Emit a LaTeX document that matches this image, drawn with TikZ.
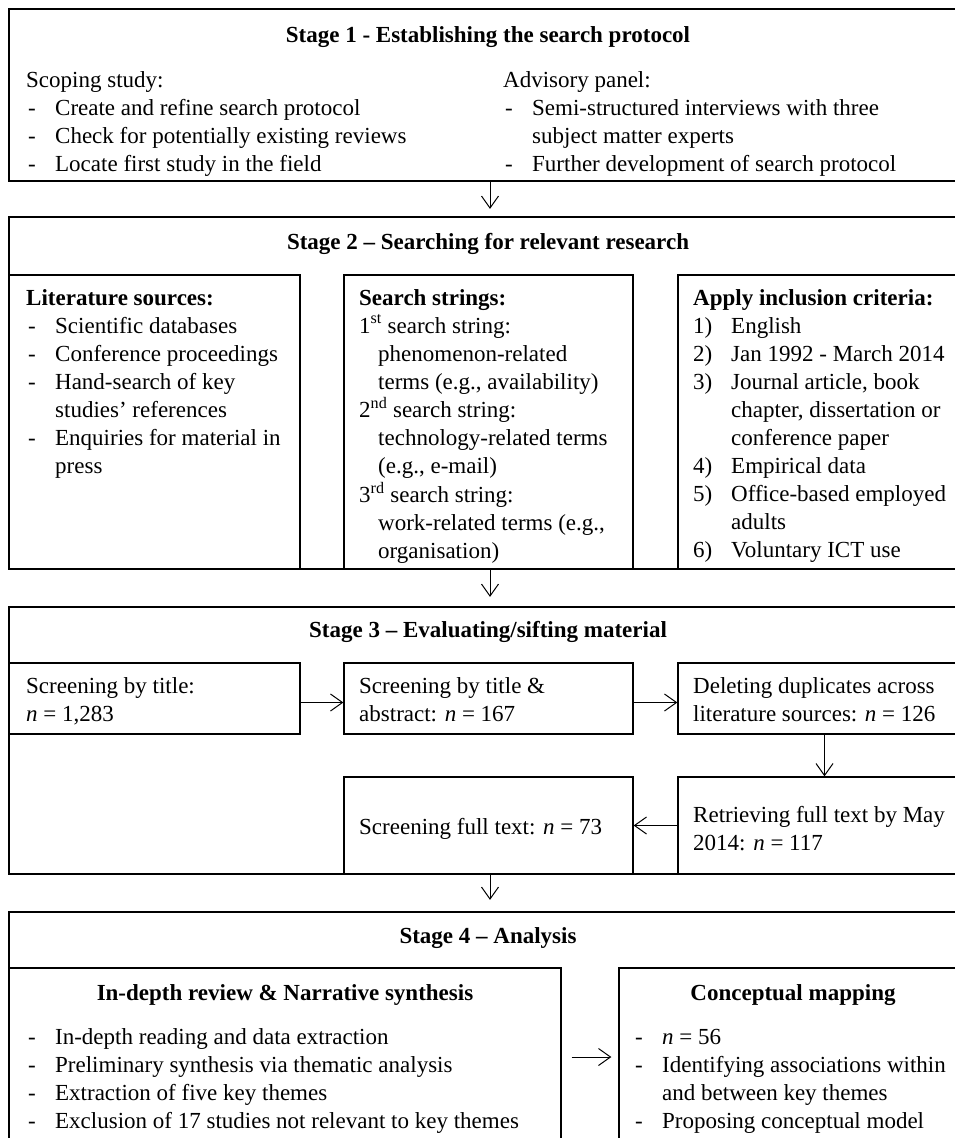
\documentclass[tikz,border=0pt]{standalone}
\usepackage{fontspec}
\setmainfont{Liberation Serif}
\usetikzlibrary{arrows.meta}
\newcommand\dsh{\makebox[29pt][l]{\hspace{2pt}-}}
\newcommand\ind{\hspace{29pt}}
\newcommand\indb{\hspace{19pt}}
\newcommand\indc{\hspace{38pt}}
\newcommand\nm[1]{\makebox[38pt][l]{#1}}
\newcommand\lines[1]{\begin{tabular}[t]{@{}l@{}}#1\end{tabular}}
\tikzset{
  outer/.style={draw, line width=2.2pt, inner sep=0pt},
  inner/.style={draw, line width=1.3pt, inner sep=0pt},
  txt/.style={inner sep=0pt, anchor=base west, font=\fontsize{23}{28}\selectfont},
  ttl/.style={inner sep=0pt, anchor=base, font=\bfseries\fontsize{23}{28}\selectfont},
  arr/.style={-{Straight Barb[length=12pt,width=17pt]}, line width=1pt},
}
\begin{document}
\begin{tikzpicture}[x=1pt,y=-1pt]
\useasboundingbox (0,0) rectangle (955,1138);
\clip (0,0) rectangle (955,1138);
\fill[white] (0,0) rectangle (955,1138);
% inner boxes
\node[inner, minimum width=291pt, minimum height=294pt] (b2L) at (154.5,422) {};
\node[inner, minimum width=289pt, minimum height=294pt] (b2M) at (488.5,422) {};
\node[inner, minimum width=289pt, minimum height=294pt] (b2R) at (822.5,422) {};
\node[inner, minimum width=291pt, minimum height=71pt] (b3a) at (154.5,698.5) {};
\node[inner, minimum width=289pt, minimum height=71pt] (b3b) at (488.5,698.5) {};
\node[inner, minimum width=289pt, minimum height=71pt] (b3c) at (822.5,698.5) {};
\node[inner, minimum width=289pt, minimum height=97pt] (b3d) at (488.5,825.5) {};
\node[inner, minimum width=289pt, minimum height=97pt] (b3e) at (822.5,825.5) {};
\node[inner, minimum width=552pt, minimum height=202pt] (b4L) at (285,1069) {};
\node[inner, minimum width=348pt, minimum height=202pt] (b4R) at (793,1069) {};
% outer boxes
\node[outer, minimum width=958pt, minimum height=172pt] (s1) at (488,95) {};
\node[outer, minimum width=958pt, minimum height=352pt] (s2) at (488,393) {};
\node[outer, minimum width=958pt, minimum height=267pt] (s3) at (488,740.5) {};
\node[outer, minimum width=958pt, minimum height=258pt] (s4) at (488,1041) {};
% arrows
\draw[arr, shorten >=7pt] ([xshift=2pt]s1.south) -- ([xshift=2pt]s2.north);
\draw[arr, shorten >=9pt] ([xshift=2pt]s2.south) -- ([xshift=2pt]s3.north);
\draw[arr, shorten >=11pt] ([xshift=2pt]s3.south) -- ([xshift=2pt]s4.north);
\draw[arr] ([yshift=-4pt]b3a.east) -- ([yshift=-4pt]b3b.west);
\draw[arr] ([yshift=-4pt]b3b.east) -- ([yshift=-4pt]b3c.west);
\draw[arr] ([xshift=2pt]b3c.south) -- ([xshift=2pt]b3e.north);
\draw[arr] (b3e.west) -- (b3d.east);
\draw[arr, shorten <=10pt, shorten >=7pt] ([yshift=12pt]b4L.east) -- ([yshift=12pt]b4R.west);
% stage 1
\node[ttl] (t1) at (488,42) {Stage 1 - Establishing the search protocol};
\node[txt] (s1l) at (26,87) {\lines{Scoping study:\\ \dsh Create and refine search protocol\\ \dsh Check for potentially existing reviews\\ \dsh Locate first study in the field}};
\node[txt] (s1r) at (503,87) {\lines{Advisory panel:\\ \dsh Semi-structured interviews with three\\ \ind subject matter experts\\ \dsh Further development of search protocol}};
% stage 2
\node[ttl] (t2) at (488,249) {Stage 2 -- Searching for relevant research};
\node[txt] (s2l) at (26,305) {\lines{\textbf{Literature sources:}\\ \dsh Scientific databases\\ \dsh Conference proceedings\\ \dsh Hand-search of key\\ \ind studies' references\\ \dsh Enquiries for material in\\ \ind press}};
\node[txt] (s2m) at (359,305) {\lines{\textbf{Search strings:}\\ 1\textsuperscript{st} search string:\\ \indb phenomenon-related\\ \indb terms (e.g., availability)\\ 2\textsuperscript{nd} search string:\\ \indb technology-related terms\\ \indb (e.g., e-mail)\\ 3\textsuperscript{rd} search string:\\ \indb work-related terms (e.g.,\\ \indb organisation)}};
\node[txt] (s2r) at (693,305) {\lines{\textbf{Apply inclusion criteria:}\\ \nm{1)}English\\ \nm{2)}Jan 1992 - March 2014\\ \nm{3)}Journal article, book\\ \indc chapter, dissertation or\\ \indc conference paper\\ \nm{4)}Empirical data\\ \nm{5)}Office-based employed\\ \indc adults\\ \nm{6)}Voluntary ICT use}};
% stage 3
\node[ttl] (t3) at (488,637) {Stage 3 -- Evaluating/sifting material};
\node[txt] (x3a) at (26,693) {\lines{Screening by title:\\ \textit{n} = 1,283}};
\node[txt] (x3b) at (359,693) {\lines{Screening by title \&\\ abstract: \textit{n} = 167}};
\node[txt] (x3c) at (693,693) {\lines{Deleting duplicates across\\ literature sources: \textit{n} = 126}};
\node[txt] (x3d) at (359,834) {\lines{Screening full text: \textit{n} = 73}};
\node[txt] (x3e) at (693,822) {\lines{Retrieving full text by May\\ 2014: \textit{n} = 117}};
% stage 4
\node[ttl] (t4) at (488,943) {Stage 4 -- Analysis};
\node[ttl] (h4l) at (285,1000) {In-depth review \& Narrative synthesis};
\node[ttl] (h4r) at (793,1000) {Conceptual mapping};
\node[txt] (x4l) at (26,1044) {\lines{\dsh In-depth reading and data extraction\\ \dsh Preliminary synthesis via thematic analysis\\ \dsh Extraction of five key themes\\ \dsh Exclusion of 17 studies not relevant to key themes}};
\node[txt] (x4r) at (633,1044) {\lines{\dsh \textit{n} = 56\\ \dsh Identifying associations within\\ \ind and between key themes\\ \dsh Proposing conceptual model}};
\end{tikzpicture}
\end{document}
